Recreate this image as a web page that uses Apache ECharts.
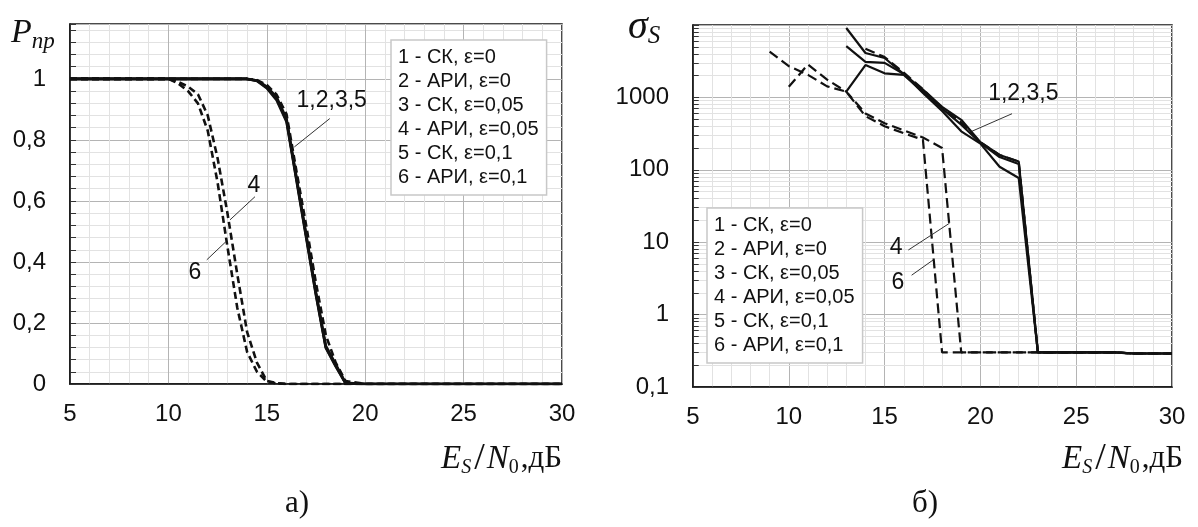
<!DOCTYPE html>
<html>
<head>
<meta charset="utf-8">
<script src="https://cdn.jsdelivr.net/npm/echarts@6/dist/echarts.min.js"></script>
<style>
html, body { margin: 0; background: #fff; }
#chart { width: 1198px; height: 527px; }
</style>
</head>
<body>
<div id="chart"></div>
<script>
var names = ['1 - СК, ε=0', '2 - АРИ, ε=0', '3 - СК, ε=0,05', '4 - АРИ, ε=0,05', '5 - СК, ε=0,1', '6 - АРИ, ε=0,1'];

// а) P_пр от Es/N0
var snrA = [5, 6, 7, 8, 9, 10, 10.5, 11, 11.5, 12, 12.5, 13, 13.5, 14, 14.5, 15, 15.5, 16, 16.5, 17, 17.5, 18, 18.5, 19, 20, 21, 22, 23, 24, 25, 26, 27, 28, 29, 30];
var pA1 = [1, 1, 1, 1, 1, 1, 1, 1, 1, 1, 1, 1, 1, 1, 0.995, 0.975, 0.94, 0.87, 0.68, 0.49, 0.3, 0.125, 0.065, 0.004, 0, 0, 0, 0, 0, 0, 0, 0, 0, 0, 0];
var pA2 = [1, 1, 1, 1, 1, 1, 1, 1, 1, 1, 1, 1, 1, 1, 0.996, 0.98, 0.948, 0.885, 0.7, 0.52, 0.33, 0.16, 0.07, 0.01, 0, 0, 0, 0, 0, 0, 0, 0, 0, 0, 0];
var pA3 = [1, 1, 1, 1, 1, 1, 1, 1, 1, 1, 1, 1, 1, 1, 0.995, 0.972, 0.935, 0.865, 0.675, 0.485, 0.295, 0.12, 0.06, 0.003, 0, 0, 0, 0, 0, 0, 0, 0, 0, 0, 0];
var pA4 = [1, 1, 1, 1, 1, 1, 0.99, 0.975, 0.95, 0.88, 0.74, 0.56, 0.36, 0.17, 0.07, 0.01, 0.003, 0, 0, 0, 0, 0, 0, 0, 0, 0, 0, 0, 0, 0, 0, 0, 0, 0, 0];
var pA5 = [1, 1, 1, 1, 1, 1, 1, 1, 1, 1, 1, 1, 1, 1, 0.993, 0.97, 0.93, 0.86, 0.67, 0.48, 0.29, 0.118, 0.058, 0.002, 0, 0, 0, 0, 0, 0, 0, 0, 0, 0, 0];
var pA6 = [1, 1, 1, 1, 1, 1, 0.985, 0.96, 0.92, 0.83, 0.66, 0.45, 0.25, 0.105, 0.04, 0.008, 0.002, 0, 0, 0, 0, 0, 0, 0, 0, 0, 0, 0, 0, 0, 0, 0, 0, 0, 0];

// б) sigma_S от Es/N0
var snrB = [9, 10, 11, 12, 13, 14, 15, 16, 17, 18, 19, 20, 21, 22, 23, 24, 25, 26, 27, 28, 29, 30];
var sB1 = [null, null, null, null, 9100, 4100, 3500, 2100, 1280, 740, 490, 240, 160, 130, 0.3, 0.3, 0.3, 0.3, 0.3, 0.29, 0.29, 0.29];
var sB2 = [null, null, null, null, null, 4700, 3600, 2200, 1300, 720, 450, 240, 160, 130, 0.3, 0.3, 0.3, 0.3, 0.3, 0.29, 0.29, 0.29];
var sB3 = [null, null, null, null, 5100, 3100, 3000, 2100, 1150, 650, 340, 230, 110, 77, 0.3, 0.3, 0.3, 0.3, 0.3, 0.29, 0.29, 0.29];
var sB4 = [null, 1400, 2850, 1760, 1200, 600, 440, 350, 280, 200, 0.3, 0.3, 0.3, 0.3, 0.3, 0.3, 0.3, 0.3, 0.3, 0.29, 0.29, 0.29];
var sB5 = [null, null, null, null, 1200, 2800, 2150, 2050, 1200, 700, 420, 235, 150, 120, 0.3, 0.3, 0.3, 0.3, 0.3, 0.29, 0.29, 0.29];
var sB6 = [4300, 2700, 2050, 1420, 1200, 550, 400, 320, 260, 0.3, 0.3, 0.3, 0.3, 0.3, 0.3, 0.3, 0.3, 0.3, 0.3, 0.29, 0.29, 0.29];

// подписи кривых: [текст, x, y], выноски: [x1, y1, x2, y2]
var notesA = [['1,2,3,5', 18.3, 0.93], ['4', 14.35, 0.65], ['6', 11.35, 0.364]];
var leadersA = [[18.2, 0.87, 16.4, 0.777], [14.4, 0.614, 13.13, 0.538], [11.95, 0.407, 12.93, 0.467]];
var notesB = [['1,2,3,5', 22.24, 1125], ['4', 15.6, 8.3], ['6', 15.7, 2.8]];
var leadersB = [[21.65, 595, 19.55, 340], [16.24, 7.8, 18.39, 18.3], [16.41, 3.5, 17.54, 5.7]];

var decades = [0.1, 1, 10, 100, 1000];
var ink = '#111';
var sans = 'Liberation Sans';
var serif = 'Liberation Serif';

function pts(xs, ys) {
    return xs.map(function (x, i) { return [x, ys[i] == null ? '-' : ys[i]]; });
}

function xAx(gi) {
    return {
        type: 'value', gridIndex: gi, min: 5, max: 30, interval: 5,
        axisLine: { show: true, lineStyle: { color: ink, width: 1.5 } },
        axisTick: { show: false },
        axisLabel: { fontSize: 24, color: ink, margin: 18, fontFamily: sans },
        splitLine: { lineStyle: { color: '#b4b4b4', width: 1 } },
        minorTick: { show: false, splitNumber: 5 },
        minorSplitLine: { show: true, lineStyle: { color: '#e2e2e2', width: 1 } }
    };
}

var series = [];
var pA = [pA1, pA2, pA3, pA4, pA5, pA6];
var sB = [sB1, sB2, sB3, sB4, sB5, sB6];

// сетка 2..9 внутри декад лог. оси
var minorLines = [], minorTicks = [];
decades.forEach(function (d) {
    for (var k = 2; k <= 9; k++) {
        var v = d * k;
        minorLines.push({ yAxis: v });
        minorTicks.push([{ coord: [5, v] }, { coord: [5.3, v] }]);
    }
});

function leaderData(list) {
    return list.map(function (l) { return [{ coord: [l[0], l[1]] }, { coord: [l[2], l[3]] }]; });
}
function noteData(list) {
    return list.map(function (n) { return { name: n[0], coord: [n[1], n[2]] }; });
}
var noteLabel = { show: true, position: 'inside', formatter: '{b}', fontSize: 23, color: ink, fontFamily: sans };

series.push({
    type: 'line', xAxisIndex: 1, yAxisIndex: 1, data: [], silent: true, z: 1,
    markLine: {
        silent: true, symbol: ['none', 'none'], label: { show: false }, animation: false, z: 1,
        lineStyle: { color: '#e2e2e2', width: 1, type: 'solid' },
        emphasis: { disabled: true },
        data: minorLines
    }
});
series.push({
    type: 'line', xAxisIndex: 1, yAxisIndex: 1, data: [], silent: true, z: 3,
    markLine: {
        silent: true, symbol: ['none', 'none'], label: { show: false }, animation: false, z: 3,
        lineStyle: { color: '#333', width: 1, type: 'solid' },
        emphasis: { disabled: true },
        data: minorTicks.concat(leaderData(leadersB))
    },
    markPoint: {
        symbol: 'circle', symbolSize: 1, itemStyle: { color: 'rgba(0,0,0,0)' }, animation: false, z: 3,
        label: noteLabel, data: noteData(notesB)
    }
});
series.push({
    type: 'line', xAxisIndex: 0, yAxisIndex: 0, data: [], silent: true, z: 3,
    markLine: {
        silent: true, symbol: ['none', 'none'], label: { show: false }, animation: false, z: 3,
        lineStyle: { color: '#333', width: 1, type: 'solid' },
        emphasis: { disabled: true },
        data: leaderData(leadersA)
    },
    markPoint: {
        symbol: 'circle', symbolSize: 1, itemStyle: { color: 'rgba(0,0,0,0)' }, animation: false, z: 3,
        label: noteLabel, data: noteData(notesA)
    }
});

for (var k = 0; k < 6; k++) {
    var dashed = k % 2 === 1;
    series.push({
        name: names[k], type: 'line', xAxisIndex: 0, yAxisIndex: 0,
        data: pts(snrA, pA[k]), symbol: 'none', z: dashed ? 2 : 3,
        lineStyle: { color: ink, width: 2.6, type: dashed ? [7, 4] : 'solid' }
    });
    series.push({
        name: names[k], type: 'line', xAxisIndex: 1, yAxisIndex: 1,
        data: pts(snrB, sB[k]), symbol: 'none', z: dashed ? 2 : 3,
        lineStyle: { color: ink, width: 2.2, type: dashed ? [10, 5] : 'solid' }
    });
}

function legendAt(left, top) {
    return {
        data: names, orient: 'vertical', left: left, top: top, icon: 'none', z: 10,
        itemWidth: 0, itemHeight: 20, itemGap: 4, padding: [7, 8, 8, 2],
        backgroundColor: '#fff', borderColor: '#c8c8c8', borderWidth: 1.5,
        selectedMode: false,
        textStyle: { fontSize: 20, color: ink, fontFamily: sans }
    };
}

var big = { fontFamily: serif, fontStyle: 'italic', fontSize: 33, color: ink, fontWeight: 'normal' };
var sub = { fontFamily: serif, fontStyle: 'italic', fontSize: 20, color: ink, fontWeight: 'normal', padding: [17, 0, 0, 0] };
var axRich = {
    e: big,
    s: sub,
    sl: { fontFamily: serif, fontSize: 38, color: ink, fontWeight: 'normal', padding: [0, 2, 0, 3] },
    n: big,
    z: { fontFamily: serif, fontSize: 20, color: ink, fontWeight: 'normal', padding: [17, 2, 0, 0] },
    d: { fontFamily: serif, fontSize: 31, color: ink, fontWeight: 'normal' }
};
var axText = '{e|E}{s|S}{sl|/}{n|N}{z|0}{d|,дБ}';

var option = {
    animation: false,
    backgroundColor: '#fff',
    title: [
        { text: '{p|P}{s|пр}', left: 11, top: 14, padding: 0,
          textStyle: { fontWeight: 'normal', rich: {
              p: { fontFamily: serif, fontStyle: 'italic', fontSize: 34, color: ink, fontWeight: 'normal' },
              s: { fontFamily: serif, fontStyle: 'italic', fontSize: 23, color: ink, fontWeight: 'normal', padding: [16, 0, 0, 0] } } } },
        { text: '{p|σ}{s|S}', left: 628, top: 6, padding: 0,
          textStyle: { fontWeight: 'normal', rich: {
              p: { fontFamily: serif, fontStyle: 'italic', fontSize: 40, color: ink, fontWeight: 'normal' },
              s: { fontFamily: serif, fontStyle: 'italic', fontSize: 25, color: ink, fontWeight: 'normal', padding: [18, 0, 0, 0] } } } },
        { text: axText, left: 441, top: 440, padding: 0, textStyle: { fontWeight: 'normal', rich: axRich } },
        { text: axText, left: 1062, top: 440, padding: 0, textStyle: { fontWeight: 'normal', rich: axRich } },
        { text: 'а)', left: 285, top: 488, padding: 0, textStyle: { fontFamily: serif, fontSize: 31, fontWeight: 'normal', color: ink } },
        { text: 'б)', left: 912, top: 488, padding: 0, textStyle: { fontFamily: serif, fontSize: 31, fontWeight: 'normal', color: ink } }
    ],
    legend: [legendAt(391, 40), legendAt(707, 208)],
    grid: [
        { left: 70, top: 24, width: 492, height: 360, show: true, borderColor: ink, borderWidth: 1.5, backgroundColor: '#fff' },
        { left: 693, top: 25, width: 479, height: 362, show: true, borderColor: ink, borderWidth: 1.5, backgroundColor: '#fff' }
    ],
    xAxis: [xAx(0), xAx(1)],
    yAxis: [
        {
            type: 'value', gridIndex: 0, min: 0, max: 1.18, interval: 0.2,
            axisLine: { show: true, lineStyle: { color: ink, width: 1.5 } },
            axisTick: { show: true, inside: true, length: 6, lineStyle: { color: '#333' } },
            minorTick: { show: true, splitNumber: 5, length: 6, lineStyle: { color: '#333' } },
            axisLabel: {
                fontSize: 24, color: ink, margin: 24, fontFamily: sans, showMaxLabel: false,
                formatter: function (v) { return v > 1.01 ? '' : String(Math.round(v * 10) / 10).replace('.', ','); }
            },
            splitLine: { lineStyle: { color: '#b4b4b4', width: 1 } },
            minorSplitLine: { show: true, lineStyle: { color: '#e2e2e2', width: 1 } }
        },
        {
            type: 'log', logBase: 10, gridIndex: 1, min: 0.1, max: 10000,
            axisLine: { show: true, lineStyle: { color: ink, width: 1.5 } },
            axisTick: { show: true, inside: true, length: 6, lineStyle: { color: '#333' } },
            axisLabel: {
                fontSize: 24, color: ink, margin: 24, fontFamily: sans,
                formatter: function (v) { if (v > 5000) return ''; return v < 0.5 ? '0,1' : String(Math.round(v)); }
            },
            splitLine: { lineStyle: { color: '#b4b4b4', width: 1 } }
        }
    ],
    series: series
};

var myChart = echarts.init(document.getElementById('chart'));
myChart.setOption(option);
</script>
</body>
</html>
